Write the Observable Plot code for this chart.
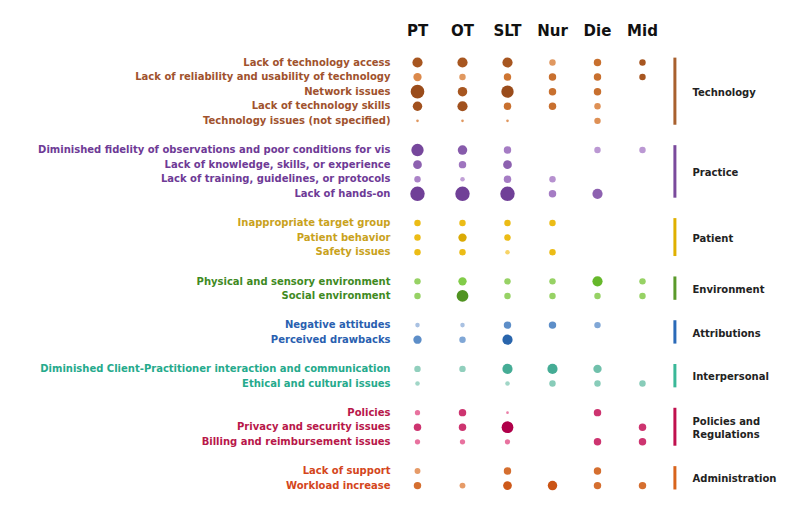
<!DOCTYPE html>
<html><head><meta charset="utf-8">
<script src="https://cdn.jsdelivr.net/npm/d3@7"></script>
<script src="https://cdn.jsdelivr.net/npm/@observablehq/plot@0.6"></script>
<style>body{margin:0;background:#fff;}</style>
</head><body><div id="chart"></div>
<script>
const professions = ["PT","OT","SLT","Nur","Die","Mid"];
const groups = ["Technology","Practice","Patient","Environment","Attributions","Interpersonal","Policies and\nRegulations","Administration"];
const groupLabelColors = ["#a0522d","#6e3a96","#c9a21c","#3f8a1f","#2a5fb0","#25aa8c","#b8174a","#d4461c"];
const groupBarColors = ["#a8602e","#7a4a9c","#e0b000","#5a9a2a","#2a6ab8","#3ab898","#c0104e","#d8641c"];
const groupRamps = [
  ["#ecc4a0","#d57a35","#944718"],
  ["#dcc4ea","#a57cc4","#6a3a92"],
  ["#f8e6a0","#f2c21a","#d4a400"],
  ["#c8e6a8","#a0d470","#70c830","#4a8a1e"],
  ["#d0dcee","#6a9ad0","#1f5fa8"],
  ["#d0ece4","#80c8b4","#1fa088"],
  ["#f2c0d4","#e04a8a","#b0004a"],
  ["#f6d0b0","#d87838","#c84a0a"]
];
const barriers = [
  "Lack of technology access",
  "Lack of reliability and usability of technology",
  "Network issues",
  "Lack of technology skills",
  "Technology issues (not specified)",
  "Diminished fidelity of observations and poor conditions for vis",
  "Lack of knowledge, skills, or experience",
  "Lack of training, guidelines, or protocols",
  "Lack of hands-on",
  "Inappropriate target group",
  "Patient behavior",
  "Safety issues",
  "Physical and sensory environment",
  "Social environment",
  "Negative attitudes",
  "Perceived drawbacks",
  "Diminished Client-Practitioner interaction and communication",
  "Ethical and cultural issues",
  "Policies",
  "Privacy and security issues",
  "Billing and reimbursement issues",
  "Lack of support",
  "Workload increase"
];
const barrierGroup = [0,0,0,0,0,1,1,1,1,2,2,2,3,3,4,4,5,5,6,6,6,7,7];
// number of studies (dot size), columns: PT, OT, SLT, Nur, Die, Mid
const counts = [
  [15,15,15,6,8,6],
  [10,6,8,8,8,6],
  [27,13,22,8,8,null],
  [13,15,8,8,6,null],
  [1,1,1,null,6,null],
  [22,13,8,null,6,6],
  [11,8,11,null,null,null],
  [6,3,8,6,null,null],
  [30,30,30,8,15,null],
  [6,6,6,6,null,null],
  [6,10,6,null,null,null],
  [6,6,3,6,null,null],
  [6,10,6,6,15,6],
  [6,20,6,6,6,6],
  [3,3,8,8,6,null],
  [10,6,15,null,null,null],
  [6,6,15,15,10,null],
  [3,null,3,6,6,6],
  [4,8,1,null,8,null],
  [8,8,20,null,null,8],
  [4,4,4,null,8,8],
  [5,null,8,null,8,null],
  [8,5,11,13,8,8]
];
// share within profession (dot shade), %
const shares = [
  [85,85,85,30,60,85],
  [40,30,55,60,60,85],
  [95,85,95,60,60,null],
  [90,90,60,60,35,null],
  [30,30,30,null,35,null],
  [90,75,50,null,30,30],
  [70,55,70,null,null,null],
  [45,25,50,35,null,null],
  [95,95,95,50,70,null],
  [60,60,60,60,null,null],
  [60,90,60,null,null,null],
  [60,60,25,60,null,null],
  [40,55,40,40,75,40],
  [40,95,40,40,40,40],
  [20,20,60,60,40,null],
  [60,40,95,null,null,null],
  [40,40,85,85,60,null],
  [30,null,30,45,45,45],
  [35,70,30,null,70,null],
  [70,70,100,null,null,70],
  [35,35,35,null,70,70],
  [30,null,60,null,60,null],
  [60,30,85,90,60,60]
];

const ramps = groupRamps.map(c => d3.piecewise(d3.interpolateLab, c));
const rowData = [];
let slot = 0;
barriers.forEach((b, i) => {
  if (i > 0 && barrierGroup[i] !== barrierGroup[i - 1]) slot++;
  rowData.push({label: b, group: barrierGroup[i], slot});
  slot++;
});
const dots = [];
rowData.forEach((r, i) => {
  professions.forEach((p, j) => {
    if (counts[i][j] != null) dots.push({profession: p, slot: r.slot, group: r.group, count: counts[i][j], share: shares[i][j]});
  });
});
const groupData = groups.map((name, g) => {
  const s = rowData.filter(r => r.group === g).map(r => r.slot);
  return {name, g, first: d3.min(s), last: d3.max(s), mid: (d3.min(s) + d3.max(s)) / 2};
});

const chart = Plot.plot({
  width: 800, height: 506,
  marginLeft: 392, marginRight: 89, marginTop: 54.7, marginBottom: 13.6,
  x: {type: "point", domain: [...professions, "group"], padding: 0.5, axis: null},
  y: {type: "linear", domain: [-0.5, 29.5], reverse: true, axis: null},
  r: {type: "sqrt", domain: [0, 30], range: [0, 7.2]},
  color: {type: "identity"},
  style: {fontFamily: "DejaVu Sans", background: "#fff"},
  marks: [
    Plot.axisX({ticks: professions, anchor: "top", tickSize: 0, tickPadding: 19, fontSize: 15, fontWeight: "bold", fill: "#111", label: null}),
    Plot.text(rowData, {y: "slot", text: "label", frameAnchor: "left", textAnchor: "end", dx: -2, fill: d => groupLabelColors[d.group], fontWeight: "bold", fontSize: 10}),
    Plot.dot(dots, {x: "profession", y: "slot", r: "count", fill: d => ramps[d.group](d.share / 100)}),
    Plot.ruleX(groupData, {x: () => "group", y1: d => d.first - 0.3, y2: d => d.last + 0.3, stroke: d => groupBarColors[d.g], strokeWidth: 3, dx: -12.6}),
    Plot.text(groupData, {x: () => "group", y: "mid", text: "name", textAnchor: "start", dx: 5, fontWeight: "bold", fontSize: 10, fill: "#222", lineHeight: 1.3})
  ]
});
document.getElementById("chart").appendChild(chart);
</script>
</body></html>
